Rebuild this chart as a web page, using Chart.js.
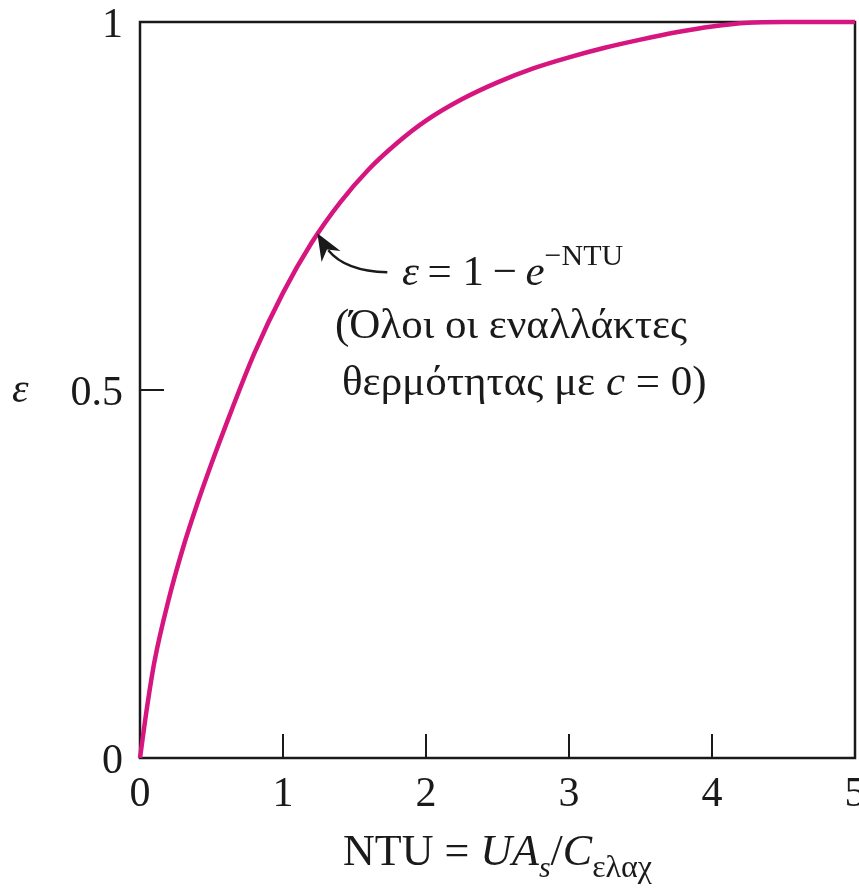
<!DOCTYPE html>
<html>
<head>
<meta charset="utf-8">
<script src="https://cdn.jsdelivr.net/npm/chart.js@4"></script>
<style>
  html, body { margin: 0; padding: 0; background: #fff; }
</style>
</head>
<body>
<canvas id="chart" width="859" height="888"></canvas>
<script>
// values
const ntu = [0, 0.05, 0.1, 0.2, 0.3, 0.4, 0.5, 0.6, 0.8, 1.0, 1.2, 1.4, 1.6, 1.8, 2.0, 2.25, 2.5, 2.75, 3.0, 3.25, 3.5, 3.75, 4.0, 4.25, 4.5, 5.0];
const eff = [0, 0.07, 0.13, 0.215, 0.285, 0.345, 0.40, 0.452, 0.55, 0.632, 0.70, 0.755, 0.80, 0.836, 0.866, 0.895, 0.918, 0.937, 0.952, 0.965, 0.976, 0.986, 0.994, 0.999, 1.0, 1.0];

const xTicks = [0, 1, 2, 3, 4, 5];
const xTickLabels = ["0", "1", "2", "3", "4", "5"];
const yTicks = [0, 0.5, 1];
const yTickLabels = ["0", "0.5", "1"];

// where the arrow points on the curve
const arrowAt = { x: 1.24, y: 0.713 };

const SERIF = '"Liberation Serif", "DejaVu Serif", serif';
const INK = "#1a1a1a";
const CURVE = "#d6157f";

// draws text pieces one after another: [text, style, size, dy]
function drawRuns(ctx, runs, x, y) {
    let cx = x;
    runs.forEach(r => {
        ctx.font = `${r[1]} ${r[2]}px ${SERIF}`;
        ctx.fillText(r[0], cx, y + (r[3] || 0));
        cx += ctx.measureText(r[0]).width;
    });
    return cx;
}

const frame = {
    id: "frame",
    beforeDatasetsDraw(chart) {
        const { ctx, chartArea: a } = chart;
        ctx.save();
        ctx.strokeStyle = INK;
        ctx.lineWidth = 2.5;
        ctx.strokeRect(a.left, a.top, a.right - a.left, a.bottom - a.top);

        // inner ticks
        const xs = chart.scales.x, ys = chart.scales.y;
        ctx.lineWidth = 2;
        ctx.beginPath();
        xTicks.forEach(v => {
            const px = xs.getPixelForValue(v);
            ctx.moveTo(px, a.bottom);
            ctx.lineTo(px, a.bottom - 24);
        });
        yTicks.forEach(v => {
            const py = ys.getPixelForValue(v);
            ctx.moveTo(a.left, py);
            ctx.lineTo(a.left + 24, py);
        });
        ctx.stroke();
        ctx.restore();
    },
    afterDraw(chart) {
        const { ctx, chartArea: a } = chart;
        const xs = chart.scales.x, ys = chart.scales.y;
        ctx.save();
        ctx.fillStyle = INK;
        ctx.font = `42px ${SERIF}`;

        // tick labels
        ctx.textAlign = "center";
        ctx.textBaseline = "alphabetic";
        xTicks.forEach((v, i) => {
            ctx.fillText(xTickLabels[i], xs.getPixelForValue(v), a.bottom + 48);
        });
        ctx.textAlign = "right";
        yTicks.forEach((v, i) => {
            ctx.fillText(yTickLabels[i], a.left - 17, ys.getPixelForValue(v) + 15);
        });

        // axis titles
        ctx.textAlign = "left";
        drawRuns(ctx, [
            ["NTU = ", "", 44], ["UA", "italic", 44], ["s", "italic", 30, 12],
            ["/", "", 44], ["C", "italic", 44], ["ελαχ", "", 32, 12]
        ], 343, a.bottom + 107);
        drawRuns(ctx, [["ε", "italic", 42]], 12, ys.getPixelForValue(0.5) + 12);

        // annotation with arrow
        const tx = xs.getPixelForValue(arrowAt.x), ty = ys.getPixelForValue(arrowAt.y);
        ctx.strokeStyle = INK;
        ctx.lineWidth = 2.5;
        ctx.beginPath();
        ctx.moveTo(tx + 70, ty + 39);
        ctx.quadraticCurveTo(tx + 28, ty + 38, tx + 11, ty + 17);
        ctx.stroke();
        // arrow head, pointing up-left at the curve
        const ang = Math.atan2(-22, -13);
        const len = 27, half = 11;
        const bx = tx - len * Math.cos(ang), by = ty - len * Math.sin(ang);
        ctx.beginPath();
        ctx.moveTo(tx, ty);
        ctx.lineTo(bx - half * Math.sin(ang), by + half * Math.cos(ang));
        ctx.lineTo(tx - 0.7 * len * Math.cos(ang), ty - 0.7 * len * Math.sin(ang));
        ctx.lineTo(bx + half * Math.sin(ang), by - half * Math.cos(ang));
        ctx.closePath();
        ctx.fill();

        drawRuns(ctx, [
            ["ε", "italic", 43], ["\u2009= 1\u2009−\u2009", "", 43], ["e", "italic", 43], ["−NTU", "", 30, -20]
        ], 402, ty + 52);
        drawRuns(ctx, [["(Όλοι οι εναλλάκτες", "", 43]], 335, ty + 105);
        drawRuns(ctx, [
            ["θερμότητας με ", "", 43], ["c", "italic", 43], [" = 0)", "", 43]
        ], 342, ty + 162);
        ctx.restore();
    }
};

new Chart(document.getElementById("chart"), {
    type: "line",
    data: {
        datasets: [{
            data: ntu.map((x, i) => ({ x: x, y: eff[i] })),
            borderColor: CURVE,
            borderWidth: 4.5,
            pointRadius: 0,
            cubicInterpolationMode: "monotone",
            fill: false,
            clip: false
        }]
    },
    options: {
        responsive: false,
        animation: false,
        layout: { padding: { left: 140, top: 22, right: 4, bottom: 130 } },
        plugins: { legend: { display: false }, tooltip: { enabled: false } },
        scales: {
            x: { type: "linear", min: 0, max: 5, display: false },
            y: { type: "linear", min: 0, max: 1, display: false }
        }
    },
    plugins: [frame]
});
</script>
</body>
</html>
